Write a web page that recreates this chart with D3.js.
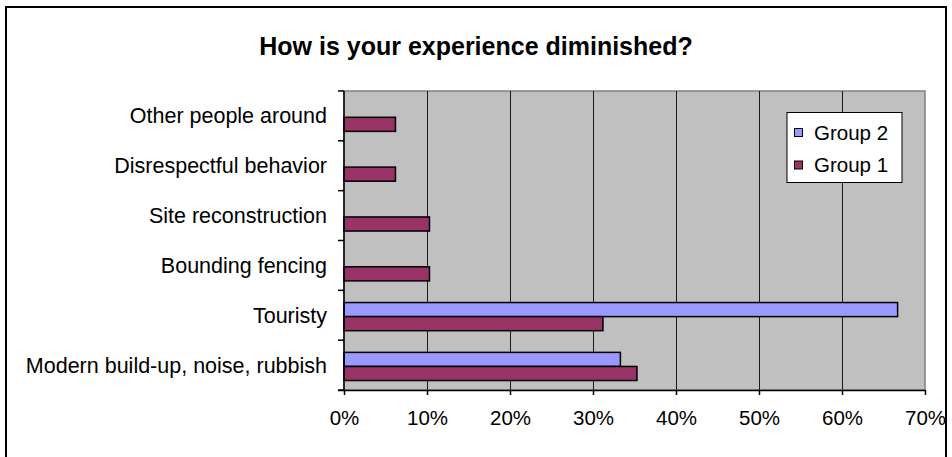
<!DOCTYPE html>
<html>
<head>
<meta charset="utf-8">
<script src="https://cdn.jsdelivr.net/npm/d3@7/dist/d3.min.js"></script>
<style>
  html, body { margin: 0; padding: 0; background: #fff; }
  svg { display: block; font-family: "Liberation Sans", Arial, sans-serif; }
</style>
</head>
<body>
<svg id="chart" width="952" height="457"></svg>
<script>
// Categories, top to bottom
const categories = [
  "Other people around",
  "Disrespectful behavior",
  "Site reconstruction",
  "Bounding fencing",
  "Touristy",
  "Modern build-up, noise, rubbish"
];
// Series, drawn top (Group 2) then bottom (Group 1) within each category
const seriesNames = ["Group 2", "Group 1"];
const group2 = [0, 0, 0, 0, 66.7, 33.3];
const group1 = [6.2, 6.2, 10.3, 10.3, 31.2, 35.3];
const xTicks = [0, 10, 20, 30, 40, 50, 60, 70];
const titleText = "How is your experience diminished?";

const colors = { "Group 2": "#9999FF", "Group 1": "#993366" };
const values = { "Group 2": group2, "Group 1": group1 };

const svg = d3.select("#chart");
const plot = { left: 344, right: 925, top: 91, bottom: 390 };

// Outer chart frame
svg.append("rect")
  .attr("x", 6).attr("y", 7).attr("width", 940).attr("height", 470)
  .attr("fill", "#fff").attr("stroke", "#000").attr("stroke-width", 2);

// Title
svg.append("text")
  .attr("x", 476).attr("y", 55)
  .attr("text-anchor", "middle")
  .attr("font-size", 25).attr("font-weight", "bold")
  .text(titleText);

const x = d3.scaleLinear().domain([0, 70]).range([plot.left, plot.right]);
const y = d3.scaleBand().domain(categories).range([plot.top, plot.bottom]).padding(0);
const inner = d3.scaleBand().domain(seriesNames)
  .range([y.bandwidth() * 0.245, y.bandwidth() * 0.81]).padding(0);

// Plot background
svg.append("rect")
  .attr("x", plot.left).attr("y", plot.top)
  .attr("width", plot.right - plot.left).attr("height", plot.bottom - plot.top)
  .attr("fill", "#C0C0C0").attr("stroke", "#808080").attr("stroke-width", 1.5);

// Vertical gridlines
svg.append("g").selectAll("line")
  .data(xTicks.filter(t => t > 0 && t < 70))
  .join("line")
  .attr("x1", d => Math.round(x(d)) + 0.5).attr("x2", d => Math.round(x(d)) + 0.5)
  .attr("y1", plot.top).attr("y2", plot.bottom)
  .attr("stroke", "#1a1a1a").attr("stroke-width", 1);

// Bars
const rows = categories.map((c, i) => ({ c, i }));
const groups = svg.append("g").selectAll("g")
  .data(rows).join("g")
  .attr("transform", d => `translate(0,${y(d.c)})`);
groups.selectAll("rect")
  .data(d => seriesNames.map(s => ({ s, v: values[s][d.i] })).filter(e => e.v > 0))
  .join("rect")
  .attr("x", x(0))
  .attr("y", d => inner(d.s))
  .attr("width", d => x(d.v) - x(0))
  .attr("height", inner.bandwidth())
  .attr("fill", d => colors[d.s])
  .attr("stroke", "#000").attr("stroke-width", 1.5);

// Left axis: category labels with ticks at band boundaries
svg.append("line")
  .attr("x1", plot.left).attr("x2", plot.left)
  .attr("y1", plot.top).attr("y2", plot.bottom)
  .attr("stroke", "#000").attr("stroke-width", 1.5);
const boundaries = categories.map(c => y(c)).concat([plot.bottom]);
svg.append("g").selectAll("line")
  .data(boundaries).join("line")
  .attr("x1", plot.left - 6).attr("x2", plot.left)
  .attr("y1", d => d).attr("y2", d => d)
  .attr("stroke", "#000").attr("stroke-width", 1.5);
svg.append("g").selectAll("text")
  .data(categories).join("text")
  .attr("x", 327)
  .attr("y", d => y(d) + y.bandwidth() / 2)
  .attr("dy", "0.35em")
  .attr("text-anchor", "end")
  .attr("font-size", 21.5)
  .text(d => d);

// Bottom axis
const xAxis = d3.axisBottom(x).tickValues(xTicks).tickSize(5).tickPadding(15)
  .tickFormat(d => d + "%");
const gx = svg.append("g")
  .attr("transform", `translate(0,${plot.bottom})`)
  .call(xAxis);
gx.select(".domain").attr("stroke", "#000").attr("stroke-width", 1.5)
  .attr("d", `M${plot.left - 6},0.5H${plot.right}`);
gx.selectAll(".tick line").attr("stroke", "#000").attr("stroke-width", 1.5);
gx.selectAll(".tick text")
  .attr("font-size", 20.5).attr("font-family", "Liberation Sans, Arial, sans-serif")
  .attr("fill", "#000");

// Legend
const legend = svg.append("g");
legend.append("rect")
  .attr("x", 787).attr("y", 112.5).attr("width", 115).attr("height", 70)
  .attr("fill", "#fff").attr("stroke", "#000").attr("stroke-width", 1);
const items = legend.selectAll("g.item")
  .data(seriesNames).join("g")
  .attr("class", "item")
  .attr("transform", (d, i) => `translate(0,${132.5 + i * 32.5})`);
items.append("rect")
  .attr("x", 794.5).attr("y", -4).attr("width", 8).attr("height", 8)
  .attr("fill", d => colors[d]).attr("stroke", "#000").attr("stroke-width", 1);
items.append("text")
  .attr("x", 814).attr("y", 0).attr("dy", "0.35em")
  .attr("font-size", 20.5)
  .text(d => d);
</script>
</body>
</html>
